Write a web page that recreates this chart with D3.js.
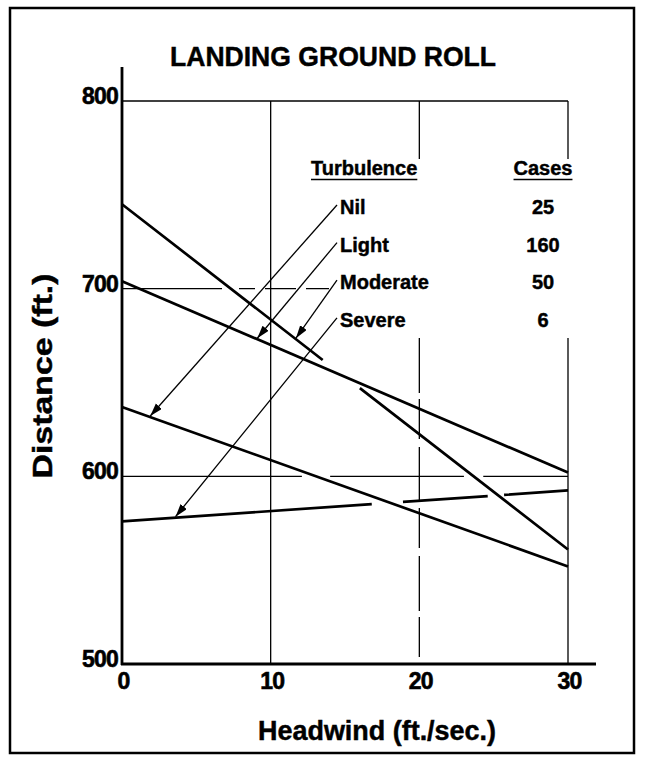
<!DOCTYPE html>
<html>
<head>
<meta charset="utf-8">
<script src="https://cdn.jsdelivr.net/npm/d3@7"></script>
<style>
  html, body { margin: 0; padding: 0; background: #fff; }
  svg { display: block; font-family: "Liberation Sans", Arial, Helvetica, sans-serif; font-weight: bold; }
  svg text { stroke: #000; stroke-width: 0.45px; fill: #000; }
</style>
</head>
<body>
<svg id="chart" width="645" height="758"></svg>
<script>
// ---- data ----
const headwindTicks = [0, 10, 20, 30];
const distanceTicks = [500, 600, 700, 800];
const turbulence = ["Nil", "Light", "Moderate", "Severe"];
const cases = [25, 160, 50, 6];

const nilHeadwind = [0, 30];
const nilDistance = [637, 552];
const lightHeadwind = [0, 30];
const lightDistance = [704, 602];
const moderateHeadwind = [0, 13.5, null, 16, 30];
const moderateDistance = [745, 662, null, 647, 561];
const severeHeadwind = [0, 16.8, null, 18.9, 24.6, null, 25.7, 30];
const severeDistance = [576, 585.2, null, 586.4, 589.5, null, 590.1, 592.5];

// headwind where each label's arrow meets its line
const arrowHeadwind = [1.9, 9.1, 11.7, 3.6];

// 600 ft gridline pieces (headwind ranges)
const grid600Pieces = [[0, 12.1], [14, 23], [24.3, 30]];

// ---- layout ----
const svg = d3.select("#chart");
const x = d3.scaleLinear().domain([0, 30]).range([122, 568]);
const y = d3.scaleLinear().domain([500, 800]).range([664, 101]);

const seriesData = [
  [nilHeadwind, nilDistance],
  [lightHeadwind, lightDistance],
  [moderateHeadwind, moderateDistance],
  [severeHeadwind, severeDistance]
].map(([hs, ds]) => hs.map((h, i) => ({ h, d: ds[i] })));

// frame
svg.append("rect").attr("x", 10).attr("y", 8).attr("width", 624).attr("height", 745)
  .attr("fill", "none").attr("stroke", "#000").attr("stroke-width", 2.5);

// title
svg.append("text").attr("x", 333).attr("y", 66).attr("text-anchor", "middle")
  .attr("font-size", 27).attr("textLength", 326).attr("lengthAdjust", "spacingAndGlyphs")
  .text("LANDING GROUND ROLL");

// gridlines
const grid = svg.append("g").attr("stroke", "#000").attr("stroke-width", 1.3).attr("fill", "none");
grid.append("line").attr("x1", x(0)).attr("x2", x(30)).attr("y1", y(800)).attr("y2", y(800));
grid.append("line").attr("x1", x(0)).attr("x2", 330).attr("y1", y(700)).attr("y2", y(700))
  .attr("stroke-dasharray", "100,17,16,10,31,10,23");
grid600Pieces.forEach(p => {
  grid.append("line").attr("x1", x(p[0])).attr("x2", x(p[1])).attr("y1", y(600)).attr("y2", y(600));
});
const legendGapTop = 159, legendGapBottom = 338;
headwindTicks.filter(t => t > 0).forEach(t => {
  if (t === 10) {
    grid.append("line").attr("x1", x(t)).attr("x2", x(t)).attr("y1", y(800)).attr("y2", y(500));
  } else {
    grid.append("line").attr("x1", x(t)).attr("x2", x(t)).attr("y1", y(800)).attr("y2", legendGapTop);
    grid.append("line").attr("x1", x(t)).attr("x2", x(t)).attr("y1", legendGapBottom).attr("y2", y(500))
      .attr("stroke-dasharray", t === 20 ? "55,6,40,8" : null);
  }
});

// axes
svg.append("line").attr("x1", x(0)).attr("x2", x(0)).attr("y1", 67).attr("y2", y(500) + 1)
  .attr("stroke", "#000").attr("stroke-width", 2.8);
svg.append("line").attr("x1", x(0) - 1).attr("x2", 596).attr("y1", y(500)).attr("y2", y(500))
  .attr("stroke", "#000").attr("stroke-width", 2.8);

// tick labels
svg.append("g").selectAll("text").data(distanceTicks).join("text")
  .attr("x", 118).attr("y", d => y(d) + 3).attr("text-anchor", "end")
  .attr("font-size", 23).attr("letter-spacing", -0.8).style("stroke-width", "0.6px").text(d => d);
svg.append("g").selectAll("text").data(headwindTicks).join("text")
  .attr("x", d => x(d) + 1.5).attr("y", 689).attr("text-anchor", "middle")
  .attr("font-size", 23).attr("letter-spacing", -0.8).style("stroke-width", "0.6px").text(d => d);

// axis titles
svg.append("text").attr("x", 377).attr("y", 740).attr("text-anchor", "middle")
  .attr("font-size", 27).attr("textLength", 238).attr("lengthAdjust", "spacingAndGlyphs")
  .text("Headwind (ft./sec.)");
svg.append("text").attr("transform", "translate(52,376) rotate(-90)").attr("text-anchor", "middle")
  .attr("font-size", 28).attr("textLength", 205).attr("lengthAdjust", "spacingAndGlyphs")
  .text("Distance (ft.)");

// data lines
const line = d3.line().defined(p => p.h !== null).x(p => x(p.h)).y(p => y(p.d));
svg.append("g").selectAll("path").data(seriesData).join("path")
  .attr("d", line).attr("fill", "none").attr("stroke", "#000").attr("stroke-width", 2.7);

// legend
const defs = svg.append("defs");
defs.append("marker").attr("id", "arrow").attr("markerUnits", "userSpaceOnUse")
  .attr("markerWidth", 14).attr("markerHeight", 10).attr("refX", 13).attr("refY", 4)
  .attr("orient", "auto")
  .append("path").attr("d", "M0,0 L13,4 L0,8 Z").attr("fill", "#000");

const hdr = svg.append("g").attr("font-size", 20);
const t1 = hdr.append("text").attr("x", 311).attr("y", 175).text("Turbulence");
const t2 = hdr.append("text").attr("x", 543).attr("y", 175).attr("text-anchor", "middle").text("Cases");
[t1, t2].forEach(t => {
  const b = t.node().getBBox();
  svg.append("line").attr("x1", b.x).attr("x2", b.x + b.width).attr("y1", 179.5).attr("y2", 179.5)
    .attr("stroke", "#000").attr("stroke-width", 1.6);
});

const rowY = i => 214 + i * 37.6;
svg.append("g").attr("font-size", 20).selectAll("text").data(turbulence).join("text")
  .attr("x", 340).attr("y", (d, i) => rowY(i)).text(d => d);
svg.append("g").attr("font-size", 20).selectAll("text").data(cases).join("text")
  .attr("x", 543).attr("y", (d, i) => rowY(i)).attr("text-anchor", "middle").text(d => d);

// leader arrows
function distanceAt(pts, h) {
  const valid = pts.filter(p => p.h !== null);
  for (let i = 0; i < valid.length - 1; i++) {
    if (h >= valid[i].h && h <= valid[i + 1].h) {
      const t = (h - valid[i].h) / (valid[i + 1].h - valid[i].h);
      return valid[i].d + t * (valid[i + 1].d - valid[i].d);
    }
  }
  return valid[0].d;
}
svg.append("g").selectAll("line").data(turbulence).join("line")
  .attr("x1", 337).attr("y1", (d, i) => rowY(i) - 9)
  .attr("x2", (d, i) => x(arrowHeadwind[i]))
  .attr("y2", (d, i) => y(distanceAt(seriesData[i], arrowHeadwind[i])) - 1)
  .attr("stroke", "#000").attr("stroke-width", 1.3).attr("marker-end", "url(#arrow)");
</script>
</body>
</html>
